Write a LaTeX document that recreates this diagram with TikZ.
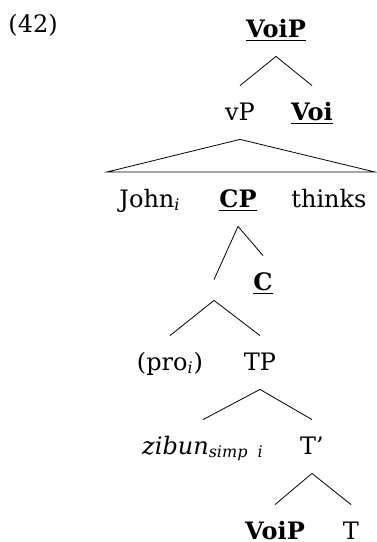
\documentclass[tikz,border=0pt]{standalone}
\usepackage{fontspec}
\setmainfont{DejaVu Serif}
\usepackage{tikz}
\usetikzlibrary{positioning}

\begin{document}
\begin{tikzpicture}[x=0.5pt, y=-0.5pt, font=\fontsize{12pt}{14pt}\selectfont,
    lbl/.style={anchor=base, inner xsep=0pt, inner ysep=8pt, text height=9pt, text depth=1.5pt}]
    \useasboundingbox (0,0) rectangle (376,542);

    \node [anchor=base west, inner sep=0pt] (ex) at (8,32) {(42)};

    \node [lbl] (voipa) at (276,37) {\underline{\textbf{VoiP}}};
    \node [lbl] (vp) at (240,120) {vP};
    \node [lbl] (voi) at (312,120) {\underline{\textbf{Voi}}};

    \node [lbl] (john) at (150,207) {John\textsubscript{\itshape i}};
    \node [lbl] (cp) at (238,207) {\underline{\textbf{CP}}};
    \node [lbl] (thinks) at (329,207) {thinks};

    \node [minimum size=10pt, inner sep=0pt] (blank) at (214,290) {};
    \node [lbl] (c) at (263,290) {\underline{\textbf{C}}};

    \node [lbl] (pro) at (170,370) {(pro\textsubscript{\itshape i})};
    \node [lbl] (tp) at (260,370) {TP};

    \node [lbl] (zibun) at (203,454) {\textit{zibun}\textsubscript{\itshape simp\ \ i}};
    \node [lbl] (tbar) at (312,454) {T'};

    \node [lbl] (voipb) at (275,539) {\textbf{VoiP}};
    \node [lbl] (t) at (351,539) {T};

    \coordinate (tl) at (107,172);
    \coordinate (tr) at (375,172);

    \draw (vp.north) -- (voipa.south) -- (voi.north);
    \draw (tl) -- (vp.south) -- (tr) -- cycle;
    \draw (blank.north) -- (cp.south) -- (c.north);
    \draw (pro.north) -- (blank.south) -- (tp.north);
    \draw (zibun.north) -- (tp.south) -- (tbar.north);
    \draw (voipb.north) -- (tbar.south) -- (t.north);
\end{tikzpicture}
\end{document}
